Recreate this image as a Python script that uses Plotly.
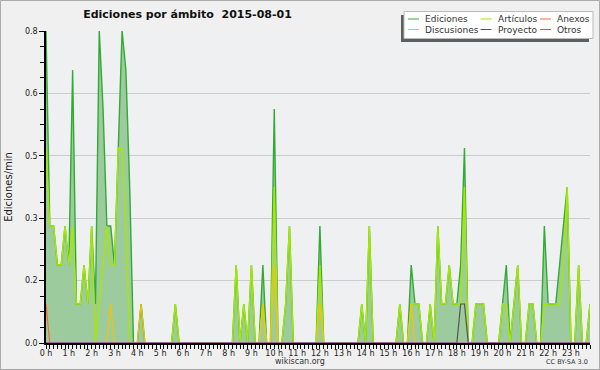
import pandas as pd
import plotly.graph_objects as go

# ---------------- data (edits per minute, 10-minute bins, 2015-08-01) ----------------
times = pd.date_range("2015-08-01 00:00", periods=144, freq="10min")

ediciones = [
    0.8, 0.3, 0.3, 0.2, 0.2, 0.3, 0.2, 0.7, 0.1, 0.1, 0.2, 0.1,   # 00-02h
    0.3, 0.1, 0.8, 0.6, 0.3, 0.3, 0.2, 0.5, 0.8, 0.7, 0.4, 0.0,   # 02-04h
    0.0, 0.1, 0.0, 0.0, 0.0, 0.0, 0.0, 0.0, 0.0, 0.0, 0.1, 0.0,   # 04-06h
    0.0, 0.0, 0.0, 0.0, 0.0, 0.0, 0.0, 0.0, 0.0, 0.0, 0.0, 0.0,   # 06-08h
    0.0, 0.0, 0.2, 0.0, 0.1, 0.0, 0.2, 0.0, 0.0, 0.2, 0.0, 0.0,   # 08-10h
    0.6, 0.0, 0.0, 0.1, 0.3, 0.0, 0.0, 0.0, 0.0, 0.0, 0.0, 0.0,   # 10-12h
    0.3, 0.0, 0.0, 0.0, 0.0, 0.0, 0.0, 0.0, 0.0, 0.0, 0.0, 0.1,   # 12-14h
    0.0, 0.3, 0.0, 0.0, 0.0, 0.0, 0.0, 0.0, 0.0, 0.1, 0.0, 0.0,   # 14-16h
    0.2, 0.1, 0.1, 0.0, 0.0, 0.1, 0.0, 0.3, 0.1, 0.1, 0.2, 0.1,   # 16-18h
    0.1, 0.2, 0.5, 0.0, 0.0, 0.1, 0.1, 0.1, 0.0, 0.0, 0.0, 0.0,   # 18-20h
    0.1, 0.2, 0.0, 0.1, 0.2, 0.0, 0.0, 0.1, 0.1, 0.0, 0.0, 0.3,   # 20-22h
    0.1, 0.1, 0.1, 0.2, 0.3, 0.4, 0.0, 0.0, 0.2, 0.0, 0.0, 0.1,   # 22-24h
]
articulos = [
    0.5, 0.3, 0.3, 0.2, 0.2, 0.3, 0.2, 0.3, 0.1, 0.1, 0.2, 0.1,
    0.3, 0.0, 0.1, 0.2, 0.3, 0.2, 0.2, 0.5, 0.5, 0.3, 0.0, 0.0,
    0.0, 0.0, 0.0, 0.0, 0.0, 0.0, 0.0, 0.0, 0.0, 0.0, 0.1, 0.0,
    0.0, 0.0, 0.0, 0.0, 0.0, 0.0, 0.0, 0.0, 0.0, 0.0, 0.0, 0.0,
    0.0, 0.0, 0.2, 0.0, 0.1, 0.0, 0.2, 0.0, 0.0, 0.1, 0.0, 0.0,
    0.4, 0.0, 0.0, 0.1, 0.3, 0.0, 0.0, 0.0, 0.0, 0.0, 0.0, 0.0,
    0.2, 0.0, 0.0, 0.0, 0.0, 0.0, 0.0, 0.0, 0.0, 0.0, 0.0, 0.1,
    0.0, 0.3, 0.0, 0.0, 0.0, 0.0, 0.0, 0.0, 0.0, 0.1, 0.0, 0.0,
    0.1, 0.1, 0.1, 0.0, 0.0, 0.1, 0.0, 0.3, 0.1, 0.1, 0.2, 0.1,
    0.1, 0.1, 0.4, 0.0, 0.0, 0.1, 0.1, 0.1, 0.0, 0.0, 0.0, 0.0,
    0.1, 0.1, 0.0, 0.1, 0.2, 0.0, 0.0, 0.1, 0.1, 0.0, 0.0, 0.1,
    0.1, 0.1, 0.1, 0.1, 0.2, 0.4, 0.0, 0.0, 0.2, 0.0, 0.0, 0.1,
]
anexos = [
    0.1, 0.0, 0.0, 0.0, 0.0, 0.0, 0.0, 0.0, 0.0, 0.0, 0.0, 0.0,
    0.0, 0.0, 0.0, 0.0, 0.0, 0.0, 0.0, 0.0, 0.0, 0.0, 0.0, 0.0,
    0.0, 0.0, 0.0, 0.0, 0.0, 0.0, 0.0, 0.0, 0.0, 0.0, 0.0, 0.0,
    0.0, 0.0, 0.0, 0.0, 0.0, 0.0, 0.0, 0.0, 0.0, 0.0, 0.0, 0.0,
    0.0, 0.0, 0.0, 0.0, 0.0, 0.0, 0.0, 0.0, 0.0, 0.0, 0.0, 0.0,
    0.0, 0.0, 0.0, 0.0, 0.0, 0.0, 0.0, 0.0, 0.0, 0.0, 0.0, 0.0,
    0.0, 0.0, 0.0, 0.0, 0.0, 0.0, 0.0, 0.0, 0.0, 0.0, 0.0, 0.0,
    0.0, 0.0, 0.0, 0.0, 0.0, 0.0, 0.0, 0.0, 0.0, 0.0, 0.0, 0.0,
    0.0, 0.0, 0.0, 0.0, 0.0, 0.0, 0.0, 0.0, 0.0, 0.0, 0.0, 0.0,
    0.0, 0.0, 0.0, 0.0, 0.0, 0.0, 0.0, 0.0, 0.0, 0.0, 0.0, 0.0,
    0.0, 0.0, 0.0, 0.0, 0.0, 0.0, 0.0, 0.0, 0.0, 0.0, 0.0, 0.0,
    0.0, 0.0, 0.0, 0.0, 0.0, 0.0, 0.0, 0.0, 0.0, 0.0, 0.0, 0.0,
]
discusiones = [
    0.0, 0.0, 0.0, 0.0, 0.0, 0.0, 0.0, 0.0, 0.0, 0.0, 0.0, 0.0,
    0.0, 0.0, 0.0, 0.0, 0.0, 0.1, 0.0, 0.0, 0.0, 0.0, 0.0, 0.0,
    0.0, 0.1, 0.0, 0.0, 0.0, 0.0, 0.0, 0.0, 0.0, 0.0, 0.0, 0.0,
    0.0, 0.0, 0.0, 0.0, 0.0, 0.0, 0.0, 0.0, 0.0, 0.0, 0.0, 0.0,
    0.0, 0.0, 0.0, 0.0, 0.0, 0.0, 0.0, 0.0, 0.0, 0.1, 0.0, 0.0,
    0.2, 0.0, 0.0, 0.0, 0.0, 0.0, 0.0, 0.0, 0.0, 0.0, 0.0, 0.0,
    0.1, 0.0, 0.0, 0.0, 0.0, 0.0, 0.0, 0.0, 0.0, 0.0, 0.0, 0.0,
    0.0, 0.0, 0.0, 0.0, 0.0, 0.0, 0.0, 0.0, 0.0, 0.0, 0.0, 0.0,
    0.1, 0.0, 0.0, 0.0, 0.0, 0.0, 0.0, 0.0, 0.0, 0.0, 0.0, 0.0,
    0.0, 0.0, 0.0, 0.0, 0.0, 0.0, 0.0, 0.0, 0.0, 0.0, 0.0, 0.0,
    0.0, 0.0, 0.0, 0.0, 0.0, 0.0, 0.0, 0.0, 0.0, 0.0, 0.0, 0.0,
    0.0, 0.0, 0.0, 0.0, 0.0, 0.0, 0.0, 0.0, 0.0, 0.0, 0.0, 0.0,
]
proyecto = [
    0.0, 0.0, 0.0, 0.0, 0.0, 0.0, 0.0, 0.0, 0.0, 0.0, 0.0, 0.0,
    0.0, 0.0, 0.0, 0.0, 0.0, 0.0, 0.0, 0.0, 0.0, 0.0, 0.0, 0.0,
    0.0, 0.0, 0.0, 0.0, 0.0, 0.0, 0.0, 0.0, 0.0, 0.0, 0.0, 0.0,
    0.0, 0.0, 0.0, 0.0, 0.0, 0.0, 0.0, 0.0, 0.0, 0.0, 0.0, 0.0,
    0.0, 0.0, 0.0, 0.0, 0.0, 0.0, 0.0, 0.0, 0.0, 0.0, 0.0, 0.0,
    0.0, 0.0, 0.0, 0.0, 0.0, 0.0, 0.0, 0.0, 0.0, 0.0, 0.0, 0.0,
    0.0, 0.0, 0.0, 0.0, 0.0, 0.0, 0.0, 0.0, 0.0, 0.0, 0.0, 0.0,
    0.0, 0.0, 0.0, 0.0, 0.0, 0.0, 0.0, 0.0, 0.0, 0.0, 0.0, 0.0,
    0.0, 0.0, 0.0, 0.0, 0.0, 0.0, 0.0, 0.0, 0.0, 0.0, 0.0, 0.0,
    0.0, 0.1, 0.1, 0.0, 0.0, 0.0, 0.0, 0.0, 0.0, 0.0, 0.0, 0.0,
    0.0, 0.0, 0.0, 0.0, 0.0, 0.0, 0.0, 0.0, 0.0, 0.0, 0.0, 0.0,
    0.0, 0.0, 0.0, 0.0, 0.0, 0.0, 0.0, 0.0, 0.0, 0.0, 0.0, 0.0,
]
otros = [
    0.0, 0.0, 0.0, 0.0, 0.0, 0.0, 0.0, 0.0, 0.0, 0.0, 0.0, 0.0,
    0.0, 0.0, 0.0, 0.0, 0.0, 0.0, 0.0, 0.0, 0.0, 0.0, 0.0, 0.0,
    0.0, 0.0, 0.0, 0.0, 0.0, 0.0, 0.0, 0.0, 0.0, 0.0, 0.0, 0.0,
    0.0, 0.0, 0.0, 0.0, 0.0, 0.0, 0.0, 0.0, 0.0, 0.0, 0.0, 0.0,
    0.0, 0.0, 0.0, 0.0, 0.0, 0.0, 0.0, 0.0, 0.0, 0.0, 0.0, 0.0,
    0.0, 0.0, 0.0, 0.0, 0.0, 0.0, 0.0, 0.0, 0.0, 0.0, 0.0, 0.0,
    0.0, 0.0, 0.0, 0.0, 0.0, 0.0, 0.0, 0.0, 0.0, 0.0, 0.0, 0.0,
    0.0, 0.0, 0.0, 0.0, 0.0, 0.0, 0.0, 0.0, 0.0, 0.0, 0.0, 0.0,
    0.0, 0.0, 0.0, 0.0, 0.0, 0.0, 0.0, 0.0, 0.0, 0.0, 0.0, 0.0,
    0.0, 0.0, 0.0, 0.0, 0.0, 0.0, 0.0, 0.0, 0.0, 0.0, 0.0, 0.0,
    0.0, 0.0, 0.0, 0.0, 0.0, 0.0, 0.0, 0.0, 0.0, 0.0, 0.0, 0.0,
    0.0, 0.0, 0.0, 0.0, 0.0, 0.0, 0.0, 0.0, 0.0, 0.0, 0.0, 0.0,
]

series_names = ["Ediciones", "Artículos", "Anexos", "Discusiones", "Proyecto", "Otros"]
y_tickvals = [0, 0.16, 0.32, 0.48, 0.64, 0.8]
y_ticktext = ["0.0", "0.2", "0.3", "0.5", "0.6", "0.8"]

# ---------------- styles ----------------
colors = {
    "Ediciones": "#33aa33",
    "Artículos": "#a8e800",
    "Anexos": "#ff6633",
    "Discusiones": "#f5c400",
    "Proyecto": "#555555",
    "Otros": "#9955ee",
}
FILL = "#9ccb9d"
FONT = "DejaVu Sans"

W, H = 600, 370
L, R, T, B = 46, 10, 31, 27
PW, PH = W - L - R, H - T - B


def px(x):
    return (x - L) / PW


def py(y):
    return (H - B - y) / PH


values = {
    "Ediciones": ediciones,
    "Artículos": articulos,
    "Anexos": anexos,
    "Discusiones": discusiones,
    "Proyecto": proyecto,
    "Otros": otros,
}

fig = go.Figure()
for name in series_names:
    is_total = name == "Ediciones"
    fig.add_trace(go.Scatter(
        x=times, y=values[name], name=name, mode="lines",
        line=dict(color=colors[name], width=1.4 if name in ("Ediciones", "Artículos") else 1.2),
        fill="tozeroy" if is_total else None,
        fillcolor=FILL if is_total else None,
        showlegend=False, hoverinfo="skip",
    ))

fig.update_layout(
    width=W, height=H,
    margin=dict(l=L, r=R, t=T, b=B, pad=0),
    paper_bgcolor="#f0f0f0",
    plot_bgcolor="#eef0f2",
    font=dict(family=FONT, size=8, color="#222"),
    title=dict(
        text="Ediciones por ámbito \u00a02015-08-01",
        font=dict(family=FONT, size=11, color="#111", weight="bold"),
        x=187.5 / W, xanchor="center", xref="container",
        y=1 - 14.5 / H, yanchor="middle", yref="container",
    ),
    showlegend=False,
)

fig.update_xaxes(
    type="date",
    range=["2015-08-01 00:00", "2015-08-01 23:50"],
    tick0="2015-08-01 00:00", dtick=3600000, tickformat="%-H h",
    showgrid=False, zeroline=False,
    showline=True, linecolor="black", linewidth=1.5,
    ticks="outside", ticklen=4, tickcolor="black", tickwidth=1,
    tickfont=dict(family=FONT, size=8, color="#222"),
    ticklabelstandoff=-2,
    minor=dict(dtick=600000, ticks="outside", ticklen=4, tickcolor="black", showgrid=False),
    automargin=False, fixedrange=True,
)
fig.update_yaxes(
    range=[0, 0.8],
    tickmode="array", tickvals=y_tickvals, ticktext=y_ticktext,
    showgrid=True, gridcolor="#cccccc", gridwidth=1, zeroline=False,
    showline=True, linecolor="black", linewidth=1.5,
    ticks="outside", ticklen=5, tickcolor="black", tickwidth=1,
    tickfont=dict(family=FONT, size=8, color="#222"),
    minor=dict(tickmode="linear", tick0=0, dtick=0.04, ticks="outside", ticklen=4,
               tickcolor="black", showgrid=False),
    title=dict(text="Ediciones/min", font=dict(family=FONT, size=10, color="#222"), standoff=10),
    automargin=False, fixedrange=True,
)

shapes = []
# outer frame
shapes.append(dict(type="rect", xref="paper", yref="paper",
                   x0=px(0.5), x1=px(W - 0.5), y0=py(H - 0.5), y1=py(0.5),
                   line=dict(color="#aaaaaa", width=1), fillcolor="rgba(0,0,0,0)", layer="below"))
# legend shadow and box
shapes.append(dict(type="rect", xref="paper", yref="paper",
                   x0=px(401), x1=px(589), y0=py(42), y1=py(15),
                   line=dict(width=0), fillcolor="#5e5e5e", layer="above"))
shapes.append(dict(type="rect", xref="paper", yref="paper",
                   x0=px(404), x1=px(593), y0=py(38.5), y1=py(11.5),
                   line=dict(color="#bbbbbb", width=1), fillcolor="white", layer="above"))

annotations = []
col_sample_x = [408, 480.5, 540]
col_text_x = [423, 496, 555]
row_y = [19, 29.5]
for k, name in enumerate(series_names):
    c, r = k % 3, k // 3
    shapes.append(dict(type="line", xref="paper", yref="paper",
                       x0=px(col_sample_x[c]), x1=px(col_sample_x[c] + 11),
                       y0=py(row_y[r]), y1=py(row_y[r]),
                       line=dict(color=colors[name], width=1), layer="above"))
    annotations.append(dict(text=name, xref="paper", yref="paper",
                            x=px(col_text_x[c]), y=py(row_y[r]),
                            xanchor="left", yanchor="middle", showarrow=False,
                            font=dict(family=FONT, size=9, color="#333")))

annotations.append(dict(text="wikiscan.org", xref="paper", yref="paper",
                        x=px(300), y=py(361), xanchor="center", yanchor="middle",
                        showarrow=False, font=dict(family=FONT, size=8, color="#333")))
annotations.append(dict(text="CC BY-SA 3.0", xref="paper", yref="paper",
                        x=px(590), y=py(362), xanchor="right", yanchor="middle",
                        showarrow=False, font=dict(family=FONT, size=6.5, color="#333")))

fig.update_layout(shapes=shapes, annotations=annotations)

fig.write_html(
    "out.html",
    config={"displayModeBar": False},
    post_script="document.body.style.margin='0';document.body.style.padding='0';",
)
